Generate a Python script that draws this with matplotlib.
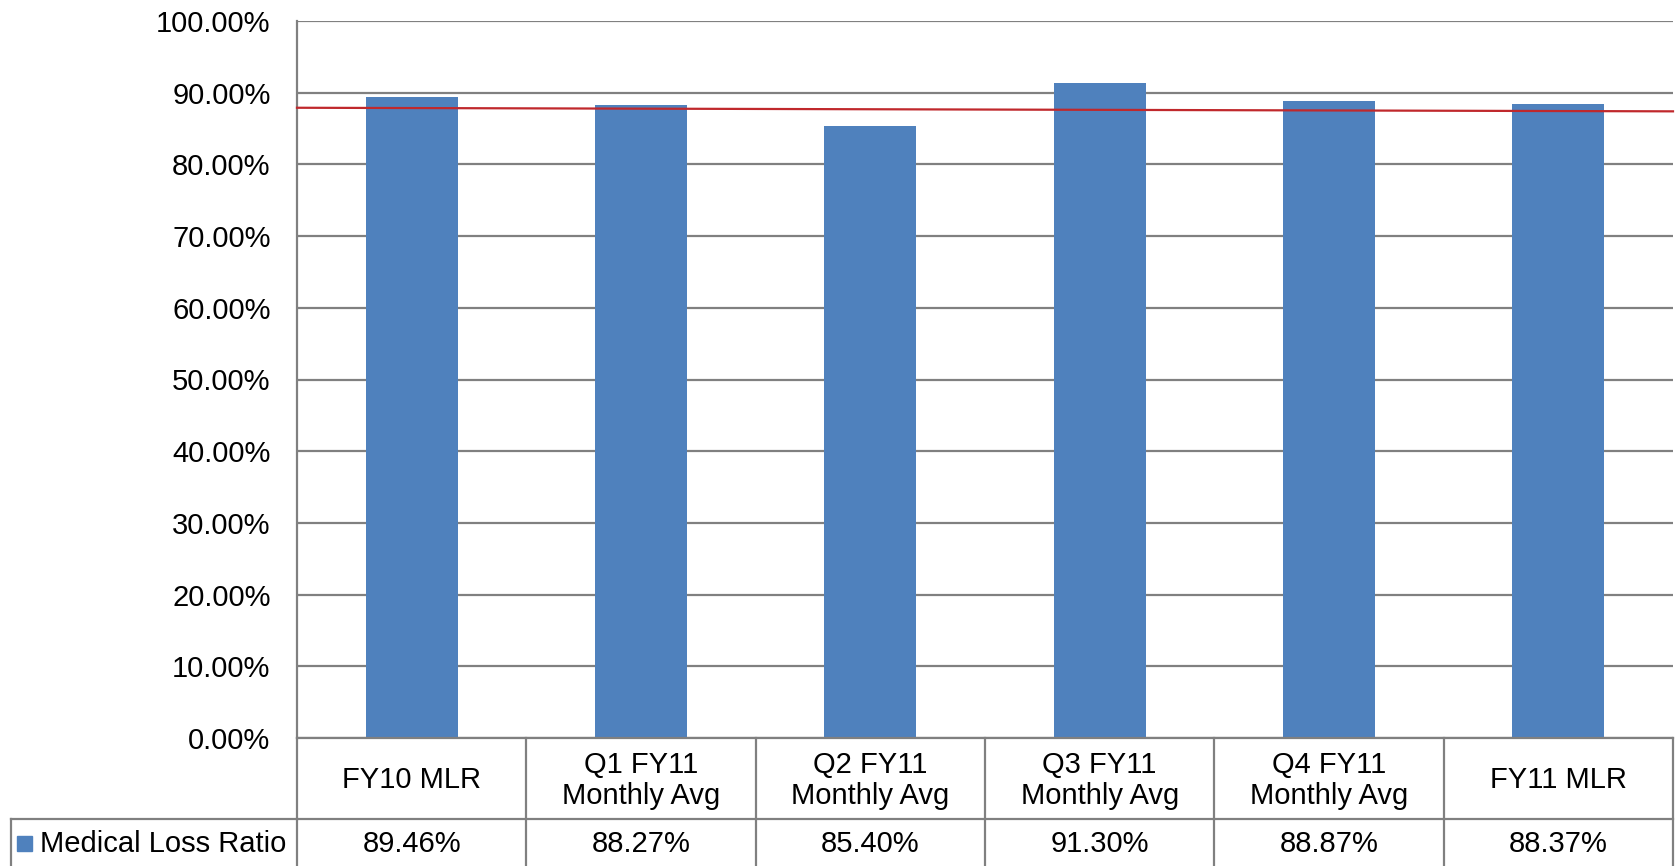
import matplotlib.pyplot as plt
import matplotlib.transforms as mtransforms
import numpy as np

plt.rcParams['font.family'] = ['Liberation Sans', 'DejaVu Sans']

# data
categories = ['FY10 MLR', 'Q1 FY11\nMonthly Avg', 'Q2 FY11\nMonthly Avg',
              'Q3 FY11\nMonthly Avg', 'Q4 FY11\nMonthly Avg', 'FY11 MLR']
mlr = [89.46, 88.27, 85.40, 91.30, 88.87, 88.37]
series_name = 'Medical Loss Ratio'
trend_ends = [87.9, 87.4]   # red reference line, left and right end

BAR = '#4F81BD'
GRID = '#808080'
RED = '#C0282C'
FS = 21

W, H = 1679, 866
fig = plt.figure(figsize=(W / 100, H / 100), dpi=100)

left, right, top, bottom = 297, 1673, 21, 738
ax = fig.add_axes([left / W, 1 - bottom / H, (right - left) / W, (bottom - top) / H])

x = np.arange(len(categories))
ax.bar(x, mlr, width=0.4, color=BAR, zorder=3)
ax.plot([-0.5, len(categories) - 0.5], trend_ends, color=RED, lw=1.6, zorder=4,
        clip_on=False)

ax.set_xlim(-0.5, len(categories) - 0.5)
ax.set_ylim(0, 100)
ax.set_yticks(np.arange(0, 101, 10))
ax.set_yticklabels(['%.2f%%' % v for v in np.arange(0, 101, 10)], fontsize=FS)
ax.tick_params(axis='y', length=0, pad=19)
ax.tick_params(axis='x', length=0, labelbottom=False)
ax.yaxis.grid(True, color=GRID, lw=1.6, zorder=0)
ax.set_axisbelow(True)
for s in ['top', 'right', 'bottom']:
    ax.spines[s].set_visible(False)
ax.spines['left'].set_color(GRID)
ax.spines['left'].set_linewidth(1.6)

# data table under the plot
trans = mtransforms.blended_transform_factory(ax.transData, fig.transFigure)
fy = lambda py: 1 - py / H
row1_bot = 819
row2_bot = 866

def hline(x0, x1, py, tr=trans):
    fig.add_artist(plt.Line2D([x0, x1], [fy(py), fy(py)], transform=tr,
                              color=GRID, lw=1.6))

def vline(xx, py0, py1, tr=trans):
    fig.add_artist(plt.Line2D([xx, xx], [fy(py0), fy(py1)], transform=tr,
                              color=GRID, lw=1.6))

hline(-0.5, len(categories) - 0.5, bottom)
hline(-0.5, len(categories) - 0.5, row1_bot)
hline(10.7 / W, left / W, row1_bot, tr=fig.transFigure)
vline(10.7 / W, row1_bot, row2_bot, tr=fig.transFigure)
for b in np.arange(len(categories) + 1) - 0.5:
    vline(b, bottom, row2_bot)

for i, (c, v) in enumerate(zip(categories, mlr)):
    fig.text(i, fy((bottom + row1_bot) / 2 + 2), c, transform=trans,
             ha='center', va='center', fontsize=FS, linespacing=1.1)
    fig.text(i, fy((row1_bot + row2_bot) / 2 + 2), '%.2f%%' % v, transform=trans,
             ha='center', va='center', fontsize=FS)

# legend key in the table
ymid = (row1_bot + row2_bot) / 2
fig.add_artist(plt.Rectangle((17 / W, fy(ymid + 8)), 15 / W, 15 / H,
                             transform=fig.transFigure, color=BAR))
fig.text(40 / W, fy(ymid + 2), series_name, ha='left', va='center', fontsize=FS)

fig.savefig('out.png', dpi=100)
